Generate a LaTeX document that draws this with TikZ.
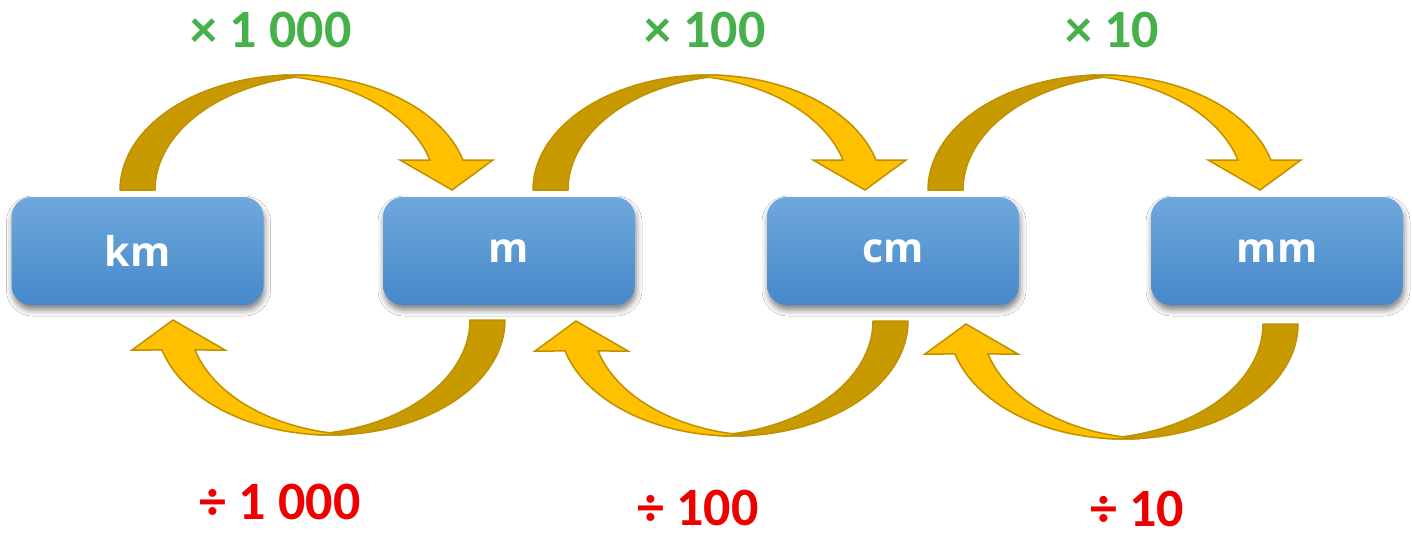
\documentclass[tikz,border=0pt]{standalone}
\usepackage{fontspec}
\setmainfont{Carlito}
\newfontfamily\boxfont{Open Sans}
\usetikzlibrary{shadows.blur}
\definecolor{darkgold}{HTML}{C99A00}
\definecolor{lightgold}{HTML}{FFC000}
\definecolor{goldline}{HTML}{BF9000}
\definecolor{boxtop}{HTML}{6FA8DC}
\definecolor{boxbot}{HTML}{4689CA}
\definecolor{mulgreen}{HTML}{46B04A}
\definecolor{divred}{HTML}{EE0000}
\tikzset{
 unitbox/.style={rounded corners=10pt, minimum width=126pt, minimum height=54pt,
   top color=boxtop, bottom color=boxbot, draw=none, text=white,
   font=\boxfont\bfseries\fontsize{20.5}{24}\selectfont,
   blur shadow={shadow xshift=0.5pt, shadow yshift=-2.5pt, shadow blur radius=3pt, shadow opacity=50}},
 mullabel/.style={text=mulgreen, inner sep=0pt, font=\bfseries\fontsize{27}{32}\selectfont},
 divlabel/.style={text=divred, inner sep=0pt, font=\bfseries\fontsize{27}{32}\selectfont},
 backarm/.style={fill=darkgold, draw=goldline, line width=0.75pt, line join=round},
 frontarm/.style={fill=lightgold, draw=goldline, line width=0.75pt, line join=miter},
}
\newcommand\curvedarrowshape{%
 \path[backarm] plot[domain=180:84.24, samples=50] ({174.5+174.5*cos(\x)},{115*sin(\x)})
   -- plot[domain=95.76:180, samples=50] ({209.5+174.5*cos(\x)},{115*sin(\x)}) -- cycle;
 \path[frontarm] plot[domain=95.43:15.12, samples=50] ({174.5+174.5*cos(\x)},{115*sin(\x)})
   -- (373,30) -- (332,0) -- (280,30)
   -- plot[domain=15.12:84.57, samples=50] ({141.5+174.5*cos(\x)},{115*sin(\x)}) -- cycle;
}
\begin{document}
\begin{tikzpicture}[x=0.5pt,y=-0.5pt]
\useasboundingbox[fill=white] (0,0) rectangle (1412,540);
% top arrows (multiply)
\begin{scope}[shift={(120,190)}, yscale=-1] \curvedarrowshape \end{scope}
\begin{scope}[shift={(533,190)}, yscale=-1] \curvedarrowshape \end{scope}
\begin{scope}[shift={(928,190)}, yscale=-1] \curvedarrowshape \end{scope}
% bottom arrows (divide)
\begin{scope}[shift={(505,320)}, xscale=-1] \curvedarrowshape \end{scope}
\begin{scope}[shift={(908,321)}, xscale=-1] \curvedarrowshape \end{scope}
\begin{scope}[shift={(1298,324)}, xscale=-1] \curvedarrowshape \end{scope}
% unit boxes
\node[unitbox] (km) at (137.5,251) {km};
\node[unitbox] (m)  at (509,251) {m};
\node[unitbox] (cm) at (893,251) {cm};
\node[unitbox] (mm) at (1277,251) {mm};
% labels
\node[mullabel] (mul1000) at (271,30) {× 1 000};
\node[mullabel] (mul100)  at (705,30) {× 100};
\node[mullabel] (mul10)   at (1112,30) {× 10};
\node[divlabel] (div1000) at (280,502) {÷ 1 000};
\node[divlabel] (div100)  at (698,508) {÷ 100};
\node[divlabel] (div10)   at (1137,509) {÷ 10};
\end{tikzpicture}
\end{document}
